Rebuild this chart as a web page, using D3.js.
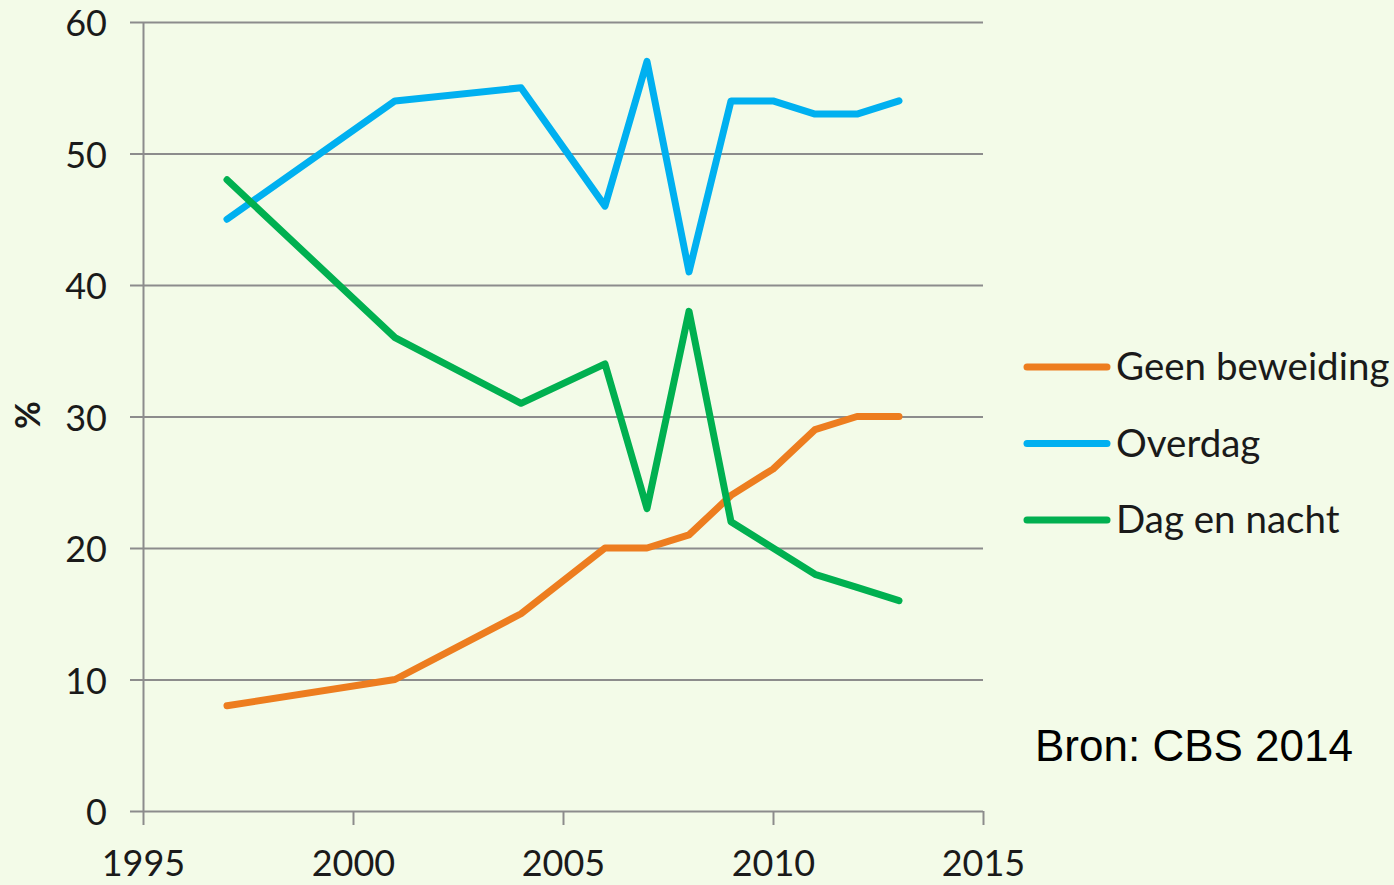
<!DOCTYPE html>
<html>
<head>
<meta charset="utf-8">
<script src="https://cdn.jsdelivr.net/npm/d3@7"></script>
<style>
  html, body { margin: 0; padding: 0; background: #f3fbe8; }
  svg { display: block; }
</style>
</head>
<body>
<div id="chart"></div>
<script>
// Data (CBS 2014)
var years = [1997, 2001, 2004, 2006, 2007, 2008, 2009, 2010, 2011, 2012, 2013];
var geenBeweiding = [8, 10, 15, 20, 20, 21, 24, 26, 29, 30, 30];
var overdag = [45, 54, 55, 46, 57, 41, 54, 54, 53, 53, 54];
var dagEnNacht = [48, 36, 31, 34, 23, 38, 22, 20, 18, 17, 16];
var seriesNames = ["Geen beweiding", "Overdag", "Dag en nacht"];
var seriesColors = ["#ed7d1f", "#00b0f0", "#00b050"];
var xTicks = [1995, 2000, 2005, 2010, 2015];
var yTicks = [0, 10, 20, 30, 40, 50, 60];

var width = 1394, height = 885;
var margin = {top: 22, right: 411, bottom: 74, left: 143};

var svg = d3.select("#chart").append("svg")
    .attr("width", width)
    .attr("height", height);

svg.append("rect")
    .attr("width", width).attr("height", height)
    .attr("fill", "#f3fbe8");

var x = d3.scaleLinear().domain([1995, 2015]).range([margin.left, width - margin.right]);
var y = d3.scaleLinear().domain([0, 60]).range([height - margin.bottom, margin.top]);

var font = "Lato, 'Open Sans', sans-serif";

// horizontal gridlines with small outward ticks
var yAxis = svg.append("g")
    .attr("transform", "translate(" + margin.left + ",0)")
    .call(d3.axisLeft(y).tickValues(yTicks)
      .tickSize(-(width - margin.right - margin.left))
      .tickSizeOuter(0).tickPadding(36));
yAxis.select(".domain").attr("stroke", "#8c8c8c").attr("stroke-width", 2);
yAxis.selectAll(".tick line")
    .attr("x1", -13)
    .attr("stroke", "#8c8c8c").attr("stroke-width", 2);
yAxis.selectAll(".tick text")
    .attr("font-family", font).attr("font-size", 36).attr("fill", "#1a1a1a")
    .attr("dy", "0.38em");

var xAxis = svg.append("g")
    .attr("transform", "translate(0," + y(0) + ")")
    .call(d3.axisBottom(x).tickValues(xTicks).tickFormat(d3.format("d"))
      .tickSize(14).tickSizeOuter(0).tickPadding(25));
xAxis.select(".domain").remove();
xAxis.selectAll(".tick line").attr("stroke", "#8c8c8c").attr("stroke-width", 2);
xAxis.selectAll(".tick text")
    .attr("font-family", font).attr("font-size", 36).attr("fill", "#1a1a1a");

// y axis title
svg.append("text")
    .attr("transform", "translate(40,415) rotate(-90)")
    .attr("text-anchor", "middle")
    .attr("font-family", font).attr("font-size", 34).attr("font-weight", "bold")
    .attr("fill", "#1a1a1a")
    .text("%");

var line = d3.line()
    .x(function(d, i) { return x(years[i]); })
    .y(function(d) { return y(d); });

var allSeries = [geenBeweiding, overdag, dagEnNacht];
// draw order: orange, blue, green on top
allSeries.forEach(function(s, i) {
  svg.append("path")
      .datum(s)
      .attr("d", line)
      .attr("fill", "none")
      .attr("stroke", seriesColors[i])
      .attr("stroke-width", 7)
      .attr("stroke-linejoin", "round")
      .attr("stroke-linecap", "round");
});

// legend
var legend = svg.append("g");
seriesNames.forEach(function(name, i) {
  var ly = 367 + i * 76.5;
  legend.append("line")
      .attr("x1", 1027).attr("x2", 1107)
      .attr("y1", ly).attr("y2", ly)
      .attr("stroke", seriesColors[i])
      .attr("stroke-width", 7)
      .attr("stroke-linecap", "round");
  legend.append("text")
      .attr("x", 1116).attr("y", ly)
      .attr("dy", "0.35em")
      .attr("font-family", font).attr("font-size", 38.5)
      .attr("fill", "#1a1a1a")
      .text(name);
});

svg.append("text")
    .attr("x", 1035).attr("y", 761)
    .attr("font-family", "'Liberation Sans', Arial, sans-serif")
    .attr("font-size", 44).attr("fill", "#000")
    .text("Bron: CBS 2014");
</script>
</body>
</html>
